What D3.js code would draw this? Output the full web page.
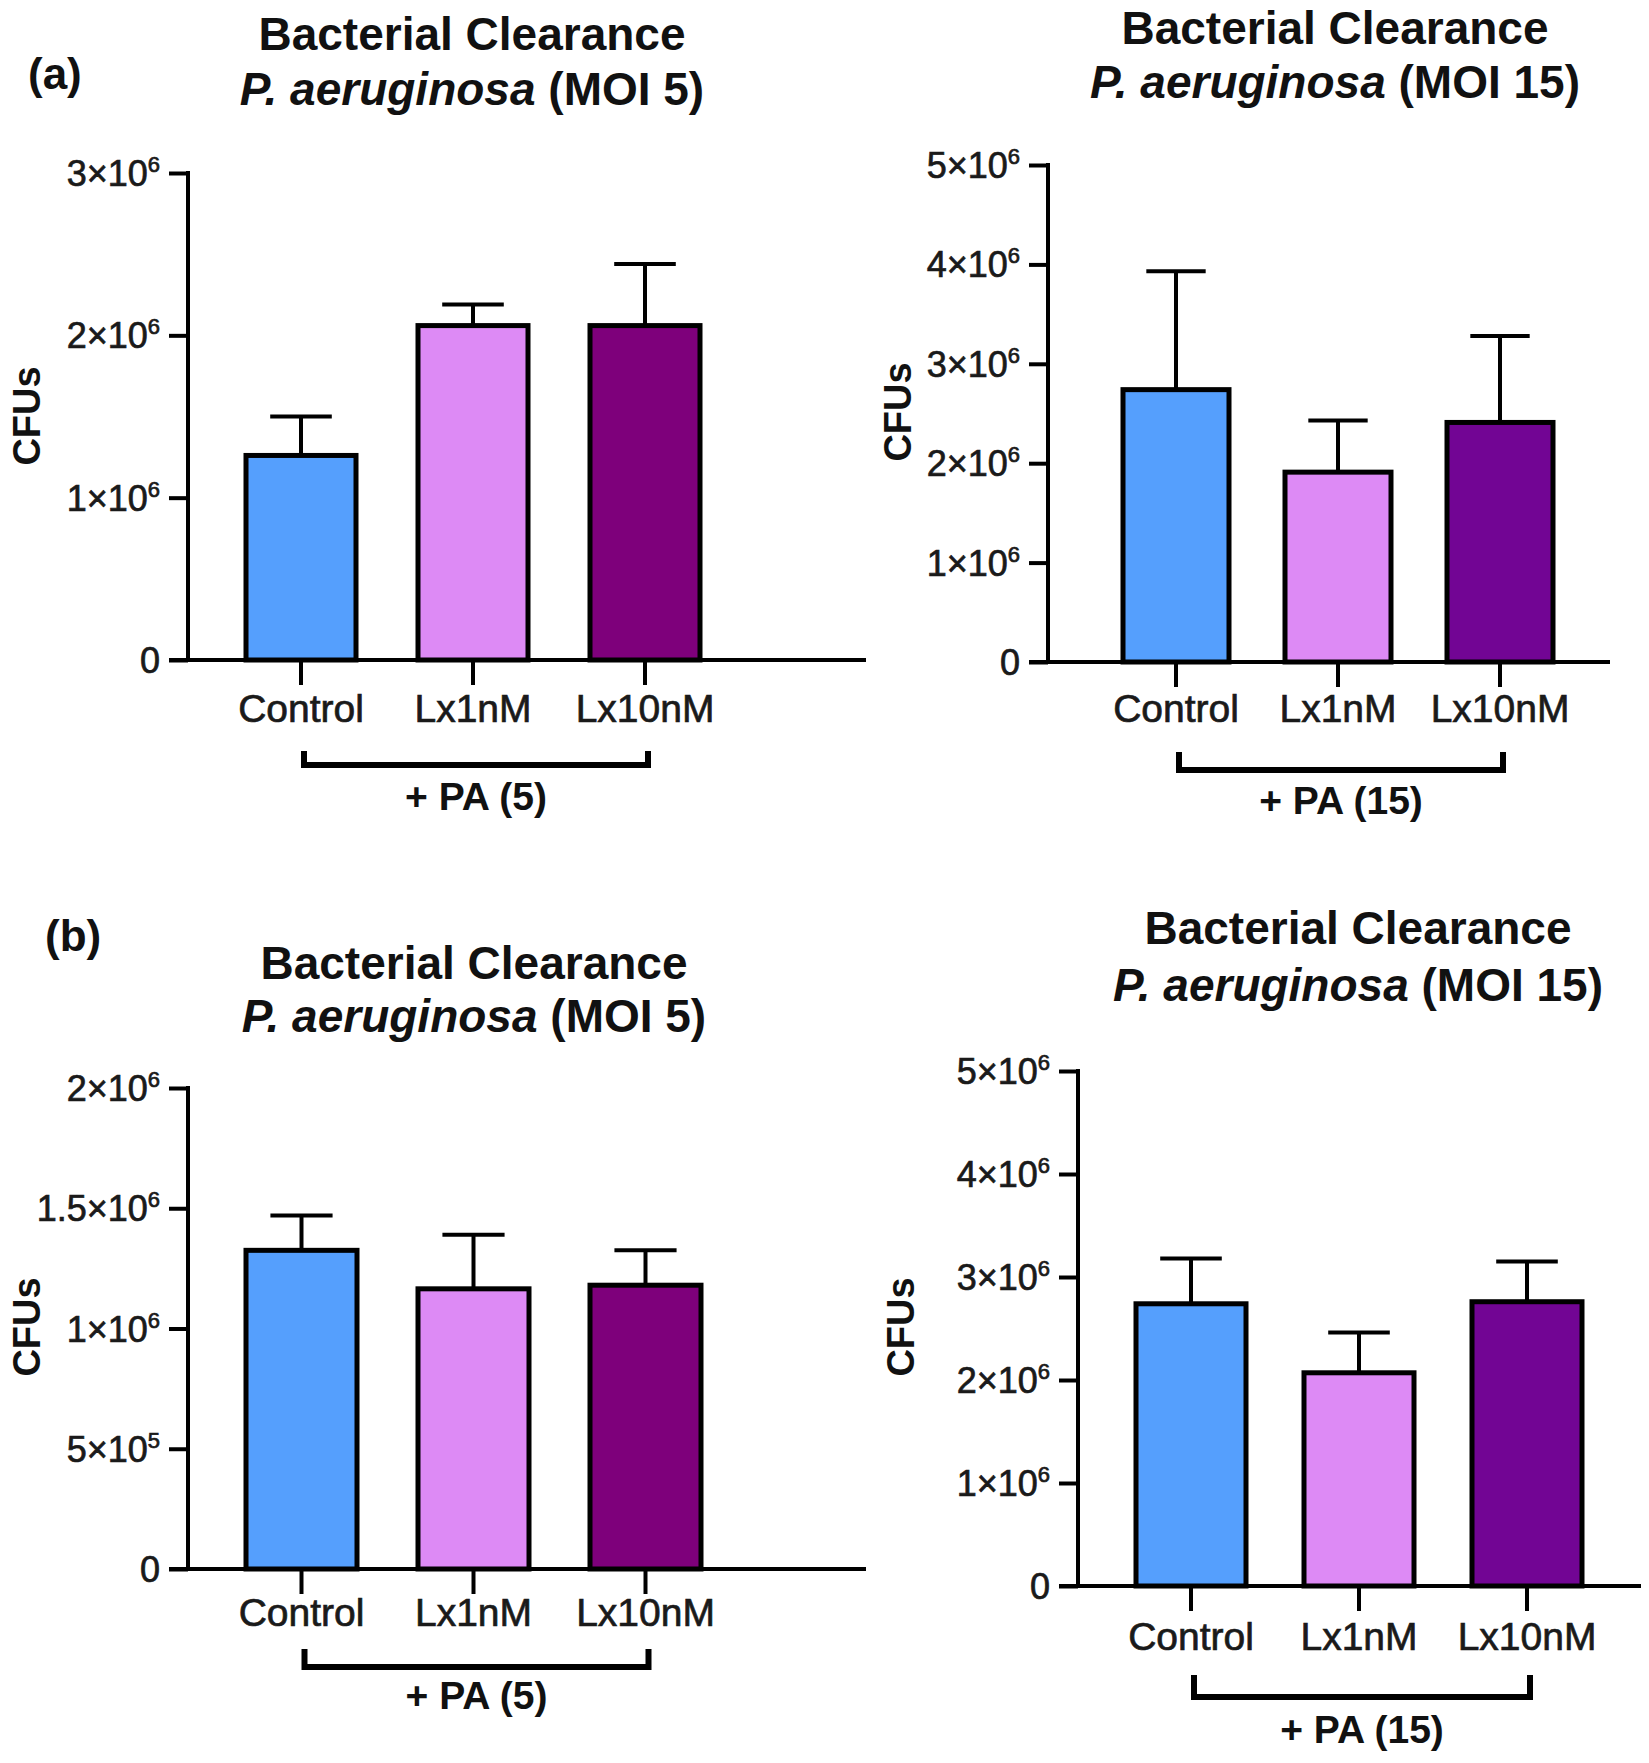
<!DOCTYPE html>
<html>
<head>
<meta charset="utf-8">
<script src="https://cdn.jsdelivr.net/npm/d3@7"></script>
<style>
  body { margin: 0; background: #fff; }
  svg { display: block; font-family: "Liberation Sans", Arial, sans-serif; }
</style>
</head>
<body>
<svg id="svg1" width="1649" height="1763"></svg>
<script>
// data (CFUs, mean and error bar height)
var groups = ['Control', 'Lx1nM', 'Lx10nM'];

var a5Means = [1.26e6, 2.06e6, 2.06e6];
var a5Err = [0.24e6, 0.13e6, 0.38e6];
var a5Ticks = [0, 1e6, 2e6, 3e6];

var a15Means = [2.74e6, 1.91e6, 2.41e6];
var a15Err = [1.19e6, 0.52e6, 0.87e6];
var a15Ticks = [0, 1e6, 2e6, 3e6, 4e6, 5e6];

var b5Means = [1.325e6, 1.165e6, 1.18e6];
var b5Err = [0.145e6, 0.225e6, 0.145e6];
var b5Ticks = [0, 5e5, 1e6, 1.5e6, 2e6];

var b15Means = [2.74e6, 2.07e6, 2.76e6];
var b15Err = [0.44e6, 0.39e6, 0.39e6];
var b15Ticks = [0, 1e6, 2e6, 3e6, 4e6, 5e6];

var svg = d3.select('#svg1');

var blue = '#559ffd', violet = '#dd8af5';

//one panel = one bar chart with title, y axis, x labels and bracket
function drawPanel(p) {
    var g = svg.append('g');

    var y = d3.scaleLinear()
        .domain([0, d3.max(p.ticks)])
        .range([p.y0, p.yTop]);

    var x = d3.scaleBand()
        .domain(groups)
        .range([p.xStart, p.xStart + p.step * 2 + p.bw])
        .paddingInner(1 - p.bw / p.step)
        .paddingOuter(0);

    var rows = groups.map(function(d, i){
        return {name: d, mean: p.means[i], err: p.err[i], color: p.colors[i]};
    });

    // title
    g.append('text')
        .attr('x', p.titleX).attr('y', p.titleY)
        .attr('text-anchor', 'middle')
        .attr('font-size', 46).attr('font-weight', 'bold')
        .attr('fill', '#111')
        .text('Bacterial Clearance');
    var t2 = g.append('text')
        .attr('x', p.titleX).attr('y', p.titleY + p.titleGap)
        .attr('text-anchor', 'middle')
        .attr('font-size', 46).attr('font-weight', 'bold')
        .attr('fill', '#111');
    t2.append('tspan').attr('font-style', 'italic').text('P. aeruginosa');
    t2.append('tspan').text(' (MOI ' + p.moi + ')');

    // error bars (upper only)
    g.selectAll('.err')
        .data(rows)
        .enter()
        .append('line')
        .attr('x1', function(d){ return x(d.name) + x.bandwidth() / 2; })
        .attr('x2', function(d){ return x(d.name) + x.bandwidth() / 2; })
        .attr('y1', function(d){ return y(d.mean); })
        .attr('y2', function(d){ return y(d.mean + d.err); })
        .attr('stroke', '#000')
        .attr('stroke-width', 4);
    g.selectAll('.cap')
        .data(rows)
        .enter()
        .append('line')
        .attr('x1', function(d){ return x(d.name) + x.bandwidth() * 0.22; })
        .attr('x2', function(d){ return x(d.name) + x.bandwidth() * 0.78; })
        .attr('y1', function(d){ return y(d.mean + d.err); })
        .attr('y2', function(d){ return y(d.mean + d.err); })
        .attr('stroke', '#000')
        .attr('stroke-width', 4);

    // bars
    g.selectAll('.bar')
        .data(rows)
        .enter()
        .append('rect')
        .attr('x', function(d){ return x(d.name); })
        .attr('y', function(d){ return y(d.mean); })
        .attr('width', x.bandwidth())
        .attr('height', function(d){ return p.y0 - y(d.mean); })
        .attr('fill', function(d){ return d.color; })
        .attr('stroke', '#000')
        .attr('stroke-width', 5);

    // y axis
    var yAxis = g.append('g')
        .attr('transform', 'translate(' + p.axisX + ',0)')
        .call(d3.axisLeft(y).tickValues(p.ticks).tickSize(19).tickFormat(''));
    yAxis.select('.domain').attr('stroke-width', 4).attr('d', 'M0,' + (p.yTop - 2) + 'V' + p.y0);
    yAxis.selectAll('.tick line').attr('stroke-width', 4);

    var labels = g.selectAll('.ylab')
        .data(p.ticks)
        .enter()
        .append('text')
        .attr('x', p.axisX - 28)
        .attr('y', function(d){ return y(d) + 13; })
        .attr('text-anchor', 'end')
        .attr('font-size', 36)
        .attr('fill', '#1a1a1a')
        .attr('stroke', '#1a1a1a')
        .attr('stroke-width', 0.7);
    labels.each(function(d){
        var t = d3.select(this);
        if (d == 0) { t.text('0'); return; }
        var e = Math.floor(Math.log10(d));
        var m = d / Math.pow(10, e);
        t.append('tspan').text(m + '\u00d710');
        t.append('tspan').attr('dy', -14).attr('font-size', 22).text(e);
    });

    // x axis
    g.append('line')
        .attr('x1', p.axisX - 19).attr('x2', p.xEnd)
        .attr('y1', p.y0).attr('y2', p.y0)
        .attr('stroke', '#000').attr('stroke-width', 4);
    g.selectAll('.xtick')
        .data(groups)
        .enter()
        .append('line')
        .attr('x1', function(d){ return x(d) + x.bandwidth() / 2; })
        .attr('x2', function(d){ return x(d) + x.bandwidth() / 2; })
        .attr('y1', p.y0).attr('y2', p.y0 + 25)
        .attr('stroke', '#000').attr('stroke-width', 4);
    g.selectAll('.xlab')
        .data(groups)
        .enter()
        .append('text')
        .attr('x', function(d){ return x(d) + x.bandwidth() / 2; })
        .attr('y', p.labelY)
        .attr('text-anchor', 'middle')
        .attr('font-size', 39)
        .attr('fill', '#1a1a1a')
        .attr('stroke', '#1a1a1a')
        .attr('stroke-width', 0.7)
        .text(function(d){ return d; });

    // bracket under the groups
    var bx1 = x(groups[0]) + x.bandwidth() / 2 + 3;
    var bx2 = x(groups[2]) + x.bandwidth() / 2 + 3;
    g.append('path')
        .attr('d', 'M' + bx1 + ',' + p.brTop + 'V' + p.brY + 'H' + bx2 + 'V' + p.brTop)
        .attr('fill', 'none')
        .attr('stroke', '#000')
        .attr('stroke-width', 6);
    g.append('text')
        .attr('x', (bx1 + bx2) / 2).attr('y', p.paY)
        .attr('text-anchor', 'middle')
        .attr('font-size', 39).attr('font-weight', 'bold')
        .attr('fill', '#111')
        .text('+ PA (' + p.moi + ')');

    // y label
    g.append('text')
        .attr('transform', 'translate(' + p.cfuX + ',' + p.cfuY + ') rotate(-90)')
        .attr('text-anchor', 'middle')
        .attr('font-size', 38).attr('font-weight', 'bold')
        .attr('fill', '#111')
        .text('CFUs');
}

drawPanel({
    means: a5Means, err: a5Err, ticks: a5Ticks, moi: 5,
    colors: [blue, violet, '#7e007b'],
    y0: 660, yTop: 173, axisX: 188, xEnd: 866,
    xStart: 246, step: 172, bw: 110,
    titleX: 472, titleY: 50, titleGap: 55,
    labelY: 722, brTop: 751, brY: 765, paY: 810,
    cfuX: 40, cfuY: 416
});

drawPanel({
    means: a15Means, err: a15Err, ticks: a15Ticks, moi: 15,
    colors: [blue, violet, '#720594'],
    y0: 662, yTop: 165, axisX: 1048, xEnd: 1610,
    xStart: 1123, step: 162, bw: 106,
    titleX: 1335, titleY: 44, titleGap: 54,
    labelY: 722, brTop: 752, brY: 770, paY: 814,
    cfuX: 911, cfuY: 412
});

drawPanel({
    means: b5Means, err: b5Err, ticks: b5Ticks, moi: 5,
    colors: [blue, violet, '#7e007b'],
    y0: 1569, yTop: 1088, axisX: 188, xEnd: 866,
    xStart: 246, step: 172, bw: 111,
    titleX: 474, titleY: 979, titleGap: 53,
    labelY: 1626, brTop: 1649, brY: 1667, paY: 1709,
    cfuX: 40, cfuY: 1327
});

drawPanel({
    means: b15Means, err: b15Err, ticks: b15Ticks, moi: 15,
    colors: [blue, violet, '#720594'],
    y0: 1586, yTop: 1071, axisX: 1078, xEnd: 1641,
    xStart: 1136, step: 168, bw: 110,
    titleX: 1358, titleY: 944, titleGap: 57,
    labelY: 1650, brTop: 1675, brY: 1697, paY: 1743,
    cfuX: 914, cfuY: 1327
});

// panel letters
svg.append('text').attr('x', 28).attr('y', 89)
    .attr('font-size', 44).attr('font-weight', 'bold').attr('fill', '#111')
    .text('(a)');
svg.append('text').attr('x', 45).attr('y', 951)
    .attr('font-size', 44).attr('font-weight', 'bold').attr('fill', '#111')
    .text('(b)');
</script>
</body>
</html>
